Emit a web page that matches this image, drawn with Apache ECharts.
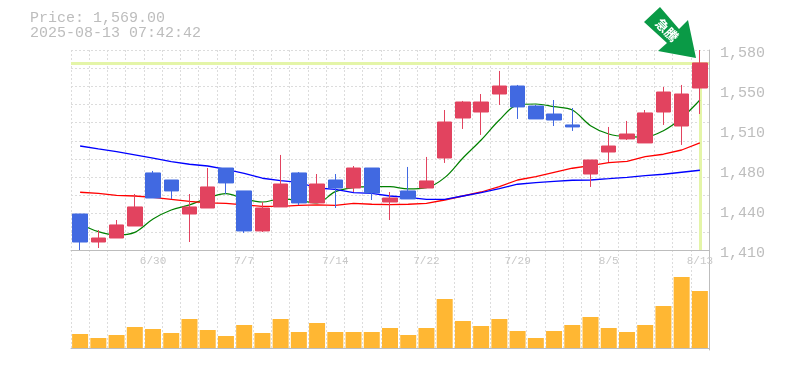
<!DOCTYPE html>
<html>
<head>
<meta charset="utf-8">
<style>
  html, body { margin: 0; padding: 0; background: #fff; }
  #main { width: 785px; height: 370px; }
</style>
<script src="https://cdn.jsdelivr.net/npm/echarts@6/dist/echarts.min.js"></script>
</head>
<body>
<div id="main"></div>
<script>
const dates = ['6/24','6/25','6/26','6/27','6/30','7/1','7/2','7/3','7/4','7/7','7/8','7/9','7/10','7/11','7/14','7/15','7/16','7/17','7/18','7/22','7/23','7/24','7/25','7/28','7/29','7/30','7/31','8/1','8/4','8/5','8/6','8/7','8/8','8/12','8/13'];
const opens = [1440.6,1416.8,1420.2,1430.4,1475.5,1469.5,1440.6,1445.7,1479.7,1460.2,1426.2,1446.6,1475.5,1450,1469.5,1462.7,1479.7,1450.8,1460.2,1462.7,1488.2,1522.2,1527.3,1542.6,1549.4,1532.4,1525.6,1516.3,1474.6,1493.3,1504.4,1501,1527.3,1515.4,1547.7];
const closes = [1416.8,1420.2,1431.3,1446.6,1454.2,1460.2,1446.6,1463.6,1467,1426.2,1445.7,1466.1,1450,1466.1,1462.7,1479.7,1458.5,1454.2,1453.4,1468.7,1518.8,1535.8,1535.8,1549.4,1531.6,1521.4,1520.5,1514.6,1486.5,1498.4,1508.6,1526.5,1544.3,1542.6,1569];
const lows = [1410,1411.7,1420.2,1430.4,1454.2,1453.4,1416.8,1445.7,1457.6,1424.5,1425.3,1446.6,1448.3,1450,1445.7,1459.3,1452.5,1435.5,1453.4,1462.7,1484,1512.9,1507.8,1533.3,1521.4,1521.4,1515.4,1511.2,1463.6,1484.8,1503.5,1501,1516.3,1499.3,1525.6];
const highs = [1440.6,1427,1435.5,1457.6,1477.2,1469.5,1457.6,1479.7,1479.7,1460.2,1450.8,1490.8,1476.3,1474.6,1474.6,1481.4,1479.7,1459.3,1480.6,1489.1,1529,1536.7,1542.6,1562.2,1550.3,1533.3,1537.5,1530.7,1486.5,1514.6,1519.7,1529,1548.6,1550.3,1580];
const maShort = [1432.1,1425.6,1422.8,1425,1436.4,1444,1448.3,1454.2,1457.9,1453.4,1450.8,1453.4,1451.9,1450,1459.6,1463,1463.8,1463.8,1461.9,1463,1471.5,1488.2,1503.5,1520.5,1533.3,1534.1,1531.8,1529,1515.7,1508.6,1506.3,1506,1511.4,1522.2,1537.5];
const maMid = [1459.1,1458.2,1456.5,1455.9,1454.8,1453.1,1451.4,1450,1449.7,1448.3,1447.1,1447.1,1448,1448.3,1448,1449.7,1448.9,1448.5,1448.9,1449.7,1452.5,1455.9,1459.3,1463.8,1469.5,1472.3,1476,1479.5,1481.7,1484.2,1485.4,1489.3,1491.4,1495,1501];
const maLong = [1498.4,1495.9,1493.6,1490.8,1488,1485.1,1482.9,1481.4,1478.6,1475.2,1471,1468.9,1467.4,1462.7,1461.6,1458.7,1458.2,1455.9,1454.8,1453.1,1453.1,1455.9,1458.7,1462.1,1465.9,1467.2,1468.4,1469.3,1469.5,1470.6,1471.8,1473.2,1474.4,1476.1,1477.8];
const volumes = [14,10,13,21,19,15,29,18,12,23,15,29,16,25,16,16,16,20,13,20,49,27,22,29,17,10,17,23,31,20,16,23,42,71,57];
const priceTicks = ['1,410','1,440','1,480','1,510','1,550','1,580'];
const lastPrice = 1569;
const priceMin = 1410;
const priceMax = 1580;
const hGridCount = 11;

const UP = '#E2435F';
const DOWN = '#4169E1';
const GRID_LINE = { show: true, interval: 0, lineStyle: { color: '#dcdcdc', width: 1, type: [2, 2] } };
const AXIS_LINE = { show: true, lineStyle: { color: '#bdbdbd', width: 1 } };
const MONO = '"Liberation Mono", monospace';

var candleData = dates.map(function (d, i) { return [opens[i], closes[i], lows[i], highs[i]]; });

var chart = echarts.init(document.getElementById('main'));
chart.setOption({
  animation: false,
  backgroundColor: '#fff',
  title: {
    text: 'Price: 1,569.00\n2025-08-13 07:42:42',
    left: 30,
    top: 11,
    padding: 0,
    textStyle: { fontFamily: MONO, fontSize: 15, fontWeight: 'normal', color: '#bdbdbd', lineHeight: 15 }
  },
  grid: [
    { left: 71, right: 76, top: 50, height: 200 },
    { left: 71, right: 76, top: 250, height: 100 }
  ],
  xAxis: [
    {
      type: 'category', gridIndex: 0, data: dates, boundaryGap: true,
      axisLine: AXIS_LINE, axisTick: { show: false }, splitLine: GRID_LINE,
      axisLabel: {
        margin: 6, fontFamily: MONO, fontSize: 11, color: '#c8c8c8', hideOverlap: false,
        interval: function (i) { return i % 5 === 4; }
      }
    },
    {
      type: 'category', gridIndex: 1, data: dates, boundaryGap: true,
      axisLine: AXIS_LINE, axisTick: { show: false }, splitLine: GRID_LINE,
      axisLabel: { show: false }
    }
  ],
  yAxis: [
    // price scale, drawn invisibly
    { type: 'value', gridIndex: 0, min: priceMin, max: priceMax, show: false },
    // horizontal dashes are not aligned with the labels, so they get their own axis
    {
      type: 'value', gridIndex: 0, min: 0, max: hGridCount, interval: 1, position: 'left',
      axisLine: { show: false }, axisTick: { show: false }, axisLabel: { show: false },
      splitLine: GRID_LINE
    },
    // right hand labels sit a little below their tick
    {
      type: 'value', gridIndex: 0, min: 0, max: priceTicks.length - 1, interval: 1, position: 'right',
      axisLine: AXIS_LINE, axisTick: { show: false }, splitLine: { show: false },
      axisLabel: {
        margin: 11, fontFamily: MONO, fontSize: 15, color: '#bdbdbd', verticalAlign: 'top', lineHeight: 6,
        formatter: function (v) { return priceTicks[v]; }
      }
    },
    {
      type: 'value', gridIndex: 1, min: -2, max: 98, position: 'right',
      axisLine: AXIS_LINE, axisTick: { show: false }, axisLabel: { show: false }, splitLine: { show: false }
    }
  ],
  series: [
    {
      type: 'line', name: 'short', xAxisIndex: 0, yAxisIndex: 0, data: maShort, showSymbol: false, z: 2, smooth: 0.35,
      lineStyle: { color: '#008000', width: 1.2 },
      markLine: {
        silent: true, symbol: 'none', z: 1, label: { show: false },
        lineStyle: { color: '#E4F5A8', width: 3, type: 'solid' },
        data: [
          { yAxis: lastPrice },
          [{ coord: [dates.length - 1, lastPrice] }, { coord: [dates.length - 1, priceMin] }]
        ]
      }
    },
    {
      type: 'line', name: 'mid', xAxisIndex: 0, yAxisIndex: 0, data: maMid, showSymbol: false, z: 2,
      lineStyle: { color: '#ff0000', width: 1.3 }
    },
    {
      type: 'line', name: 'long', xAxisIndex: 0, yAxisIndex: 0, data: maLong, showSymbol: false, z: 2,
      lineStyle: { color: '#0000ff', width: 1.3 }
    },
    {
      type: 'candlestick', xAxisIndex: 0, yAxisIndex: 0, data: candleData, barWidth: 15, z: 3,
      itemStyle: { color: UP, color0: DOWN, borderColor: UP, borderColor0: DOWN, borderWidth: 1 }
    },
    {
      type: 'bar', xAxisIndex: 1, yAxisIndex: 3, data: volumes, barWidth: 16, z: 3,
      itemStyle: { color: '#FFB733' }
    }
  ],
  graphic: [
    {
      type: 'polygon', z: 10,
      shape: { points: [[660, 7], [644, 22], [667, 43], [658, 51], [696, 58], [688, 20], [679, 29]] },
      style: { fill: '#0A9A46' }
    },
    {
      type: 'text', z: 11, x: 667, y: 30, rotation: -Math.PI / 4,
      style: {
        text: '急騰', fill: '#fff', align: 'center', verticalAlign: 'middle',
        font: 'bold 13px "Noto Sans CJK JP"'
      }
    }
  ]
});
</script>
</body>
</html>
